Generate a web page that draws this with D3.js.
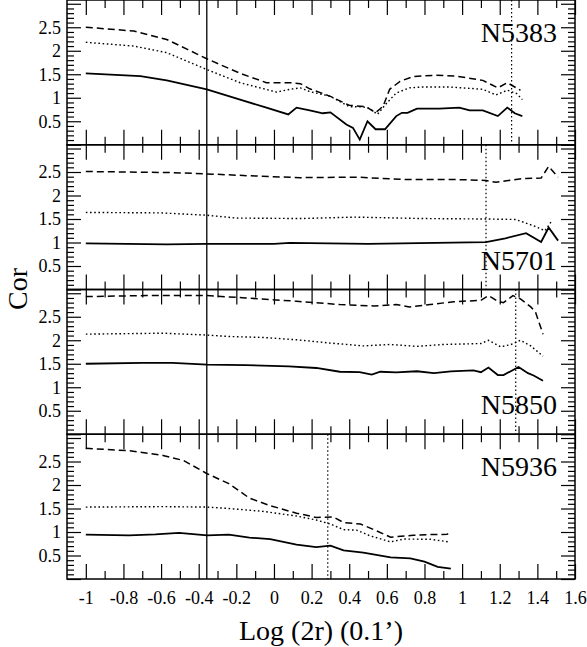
<!DOCTYPE html>
<html>
<head>
<meta charset="utf-8">
<script src="https://cdn.jsdelivr.net/npm/d3@7"></script>
<style>
  body { margin: 0; background: #fff; }
  svg { display: block; }
  text { font-family: "Liberation Serif", "Times New Roman", serif; fill: #000; }
</style>
</head>
<body>
<svg id="chart" width="587" height="647"></svg>
<script>
// galaxies, one panel each (top to bottom)
var galaxies = ["N5383", "N5701", "N5850", "N5936"];

// [log(2r), cor]
var n5383Solid = [[-1,1.52],[-0.71,1.46],[-0.57,1.37],[-0.357,1.18],[-0.18,0.96],[-0.04,0.79],[0.076,0.645],[0.12,0.79],[0.19,0.73],[0.26,0.67],[0.30,0.69],[0.385,0.43],[0.42,0.36],[0.456,0.11],[0.497,0.50],[0.54,0.33],[0.59,0.33],[0.65,0.61],[0.68,0.68],[0.71,0.68],[0.76,0.77],[0.88,0.77],[0.985,0.79],[1.04,0.73],[1.11,0.73],[1.19,0.61],[1.24,0.79],[1.28,0.67],[1.32,0.61]];
var n5383Dot = [[-1,2.18],[-0.745,2.10],[-0.57,1.96],[-0.357,1.60],[-0.18,1.32],[0.014,1.12],[0.085,1.18],[0.14,1.21],[0.19,1.13],[0.30,1.03],[0.40,0.81],[0.47,0.81],[0.51,0.77],[0.55,0.645],[0.60,0.89],[0.65,1.10],[0.72,1.21],[0.79,1.23],[0.93,1.23],[1.11,1.18],[1.18,1.06],[1.24,1.16],[1.29,1.09],[1.32,0.96]];
var n5383Dash = [[-1,2.50],[-0.745,2.42],[-0.57,2.24],[-0.46,2.03],[-0.357,1.83],[-0.18,1.52],[-0.04,1.32],[0.085,1.32],[0.14,1.30],[0.19,1.19],[0.30,1.03],[0.40,0.84],[0.49,0.81],[0.54,0.68],[0.58,0.82],[0.615,1.18],[0.67,1.35],[0.74,1.45],[0.86,1.48],[0.97,1.46],[1.11,1.37],[1.19,1.21],[1.24,1.32],[1.31,1.16]];

var n5701Solid = [[-1,0.98],[-0.57,0.96],[-0.357,0.97],[0,0.97],[0.085,0.99],[0.5,0.97],[1.127,1.01],[1.23,1.09],[1.34,1.20],[1.42,1.01],[1.46,1.32],[1.51,1.04]];
var n5701Dot = [[-1,1.64],[-0.6,1.63],[-0.357,1.58],[-0.2,1.52],[0.14,1.51],[0.43,1.54],[0.79,1.51],[1.127,1.50],[1.285,1.49],[1.39,1.34],[1.44,1.25],[1.475,1.45]];
var n5701Dash = [[-1,2.51],[-0.57,2.49],[-0.357,2.46],[-0.13,2.42],[0.14,2.38],[0.44,2.39],[0.70,2.34],[0.97,2.34],[1.127,2.32],[1.18,2.28],[1.32,2.36],[1.42,2.37],[1.46,2.62],[1.51,2.39]];

var n5850Solid = [[-1,1.50],[-0.70,1.52],[-0.54,1.52],[-0.355,1.48],[-0.15,1.47],[0.08,1.445],[0.225,1.41],[0.35,1.33],[0.455,1.32],[0.52,1.27],[0.565,1.33],[0.65,1.315],[0.76,1.34],[0.85,1.30],[0.94,1.34],[1.06,1.36],[1.10,1.32],[1.14,1.42],[1.19,1.26],[1.22,1.26],[1.30,1.43],[1.35,1.30],[1.38,1.25],[1.43,1.14]];
var n5850Dot = [[-1,2.13],[-0.59,2.15],[-0.355,2.11],[-0.24,2.08],[-0.06,2.06],[0.12,2.01],[0.30,1.94],[0.475,1.88],[0.62,1.91],[0.76,1.87],[0.90,1.91],[1.10,1.93],[1.14,2.00],[1.205,1.86],[1.26,1.91],[1.31,2.00],[1.365,1.88],[1.43,1.66]];
var n5850Dash = [[-1,2.93],[-0.68,2.95],[-0.355,2.95],[-0.15,2.90],[0.12,2.83],[0.35,2.76],[0.53,2.73],[0.65,2.76],[0.72,2.71],[0.83,2.76],[0.955,2.82],[1.10,2.85],[1.14,2.95],[1.19,2.83],[1.22,2.80],[1.27,2.95],[1.31,2.88],[1.365,2.71],[1.39,2.60],[1.43,2.13]];

var n5936Solid = [[-1,0.945],[-0.77,0.93],[-0.63,0.95],[-0.505,0.98],[-0.355,0.93],[-0.24,0.945],[-0.13,0.88],[-0.02,0.85],[0.12,0.73],[0.225,0.68],[0.30,0.71],[0.37,0.61],[0.475,0.56],[0.62,0.46],[0.725,0.44],[0.80,0.37],[0.87,0.26],[0.94,0.22]];
var n5936Dot = [[-1,1.53],[-0.59,1.54],[-0.355,1.53],[-0.24,1.50],[-0.06,1.44],[0.12,1.34],[0.225,1.255],[0.30,1.17],[0.37,1.05],[0.44,1.04],[0.51,0.92],[0.62,0.79],[0.69,0.85],[0.83,0.845],[0.93,0.79]];
var n5936Dash = [[-1,2.78],[-0.77,2.73],[-0.59,2.63],[-0.48,2.52],[-0.355,2.24],[-0.24,2.03],[-0.13,1.72],[-0.02,1.56],[0.12,1.40],[0.225,1.31],[0.315,1.32],[0.37,1.20],[0.46,1.17],[0.53,1.05],[0.62,0.89],[0.74,0.93],[0.83,0.945],[0.92,0.95],[0.94,1.00]];

// vertical reference lines
var commonLine = -0.357;
var panelMarks = [1.263, 1.127, 1.285, 0.286];

var xTicksMajor = [-1, -0.8, -0.6, -0.4, -0.2, 0, 0.2, 0.4, 0.6, 0.8, 1, 1.2, 1.4, 1.6];
var xTicksMinor = [-0.9, -0.7, -0.5, -0.3, -0.1, 0.1, 0.3, 0.5, 0.7, 0.9, 1.1, 1.3, 1.5];
var yTicksMajor = [0, 0.5, 1, 1.5, 2, 2.5, 3];
var yLabels = [0.5, 1, 1.5, 2, 2.5];

var series = [
  [n5383Solid, n5383Dot, n5383Dash],
  [n5701Solid, n5701Dot, n5701Dash],
  [n5850Solid, n5850Dot, n5850Dash],
  [n5936Solid, n5936Dot, n5936Dash]
];
// where the name sits: top or bottom of panel
var labelPos = ["top", "bottom", "bottom", "top"];

var left = 67, right = 575, panelH = 144.75;
var svg = d3.select("#chart");

var x = d3.scaleLinear().domain([-1.1, 1.6]).range([left, right]);

var fmt = function(d) { return d === 0 ? "0" : String(+d.toFixed(1)); };

var styles = [
  { w: 1.8, dash: null },
  { w: 1.4, dash: "1.6,2.6" },
  { w: 1.5, dash: "7,4" }
];

galaxies.forEach(function(name, i) {
  var y0 = i * panelH, y1 = (i + 1) * panelH;
  var y = d3.scaleLinear().domain([0, 3.08]).range([y1, y0]);
  var g = svg.append("g");

  // x ticks bottom & top (inward)
  var xb = g.append("g").attr("transform", "translate(0," + y1 + ")")
    .call(d3.axisBottom(x).tickValues(xTicksMajor).tickSize(-15).tickSizeOuter(0)
      .tickPadding(12).tickFormat(i === 3 ? fmt : ""));
  g.append("g").attr("transform", "translate(0," + y1 + ")")
    .call(d3.axisBottom(x).tickValues(xTicksMinor).tickSize(-8).tickSizeOuter(0).tickFormat(""));
  g.append("g").attr("transform", "translate(0," + y0 + ")")
    .call(d3.axisTop(x).tickValues(xTicksMajor).tickSize(-15).tickSizeOuter(0).tickFormat(""));
  g.append("g").attr("transform", "translate(0," + y0 + ")")
    .call(d3.axisTop(x).tickValues(xTicksMinor).tickSize(-8).tickSizeOuter(0).tickFormat(""));

  // y ticks left & right
  var yMinor = d3.range(1, 31).map(function(k) { return k / 10; })
    .filter(function(v) { return Math.round(v * 10) % 5 !== 0; });
  g.append("g").attr("transform", "translate(" + left + ",0)")
    .call(d3.axisLeft(y).tickValues(yTicksMajor).tickSize(-14).tickSizeOuter(0).tickPadding(6)
      .tickFormat(function(d) { return yLabels.indexOf(d) >= 0 ? fmt(d) : ""; }));
  g.append("g").attr("transform", "translate(" + left + ",0)")
    .call(d3.axisLeft(y).tickValues(yMinor).tickSize(-7).tickSizeOuter(0).tickFormat(""));
  g.append("g").attr("transform", "translate(" + right + ",0)")
    .call(d3.axisRight(y).tickValues(yTicksMajor).tickSize(-14).tickSizeOuter(0).tickFormat(""));
  g.append("g").attr("transform", "translate(" + right + ",0)")
    .call(d3.axisRight(y).tickValues(yMinor).tickSize(-7).tickSizeOuter(0).tickFormat(""));

  g.selectAll(".domain").remove();
  g.selectAll(".tick line").attr("stroke", "#000").attr("stroke-width", 1.2);
  g.selectAll(".tick text").attr("font-size", 18).attr("font-family", "Liberation Serif, serif");

  // frame
  g.append("rect").attr("x", left).attr("y", y0).attr("width", right - left).attr("height", panelH)
    .attr("fill", "none").attr("stroke", "#000").attr("stroke-width", 1.5);

  // dotted marker
  g.append("line").attr("x1", x(panelMarks[i])).attr("x2", x(panelMarks[i]))
    .attr("y1", y0).attr("y2", y1)
    .attr("stroke", "#000").attr("stroke-width", 1.2).attr("stroke-dasharray", "1.5,2.5");

  var line = d3.line().x(function(d) { return x(d[0]); }).y(function(d) { return y(d[1]); });
  series[i].forEach(function(s, k) {
    g.append("path").datum(s).attr("d", line)
      .attr("fill", "none").attr("stroke", "#000")
      .attr("stroke-width", styles[k].w)
      .attr("stroke-dasharray", styles[k].dash);
  });

  g.append("text").attr("x", 557)
    .attr("y", labelPos[i] === "top" ? y0 + 42 : y1 - 20)
    .attr("text-anchor", "end").attr("font-size", 28).text(name);
});

// common solid vertical line
svg.append("line").attr("x1", x(commonLine)).attr("x2", x(commonLine))
  .attr("y1", 0).attr("y2", 4 * panelH).attr("stroke", "#000").attr("stroke-width", 1.3);

// axis titles
svg.append("text").attr("x", 321).attr("y", 640).attr("text-anchor", "middle")
  .attr("font-size", 28).text("Log (2r) (0.1\u2019)");
svg.append("text").attr("transform", "translate(27,289) rotate(-90)")
  .attr("text-anchor", "middle").attr("font-size", 28).text("Cor");
</script>
</body>
</html>
